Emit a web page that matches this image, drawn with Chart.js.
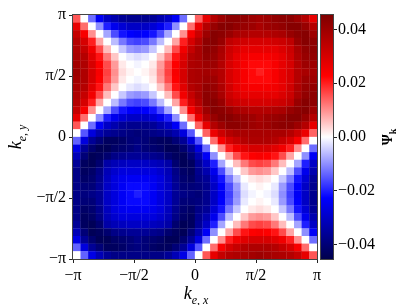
<!DOCTYPE html>
<html>
<head>
<meta charset="utf-8">
<script src="https://cdn.jsdelivr.net/npm/chart.js@4"></script>
<style>
html, body { margin: 0; padding: 0; background: #fff; }
#wrap { position: relative; width: 415px; height: 305px; overflow: hidden; }
canvas { position: absolute; top: 0; }
.lab { position: absolute; font-family: "Liberation Serif", serif; font-size: 18px; color: #000; white-space: nowrap; line-height: 1; transform: translate(-50%, -50%); }
.lab sub { font-size: 12px; line-height: 0; }
</style>
</head>
<body>
<div id="wrap">
	<canvas id="map" width="415" height="305" style="left:0"></canvas>
	<canvas id="bar" width="115" height="305" style="left:300px"></canvas>
	<div class="lab" style="left:196px;top:293px"><i>k</i><sub><i>e, x</i></sub></div>
	<div class="lab" style="left:15px;top:137px;transform:translate(-50%,-50%) rotate(-90deg)"><i>k</i><sub><i>e, y</i></sub></div>
	<div class="lab" style="left:388px;top:137px;font-size:14px;transform:translate(-50%,-50%) rotate(-90deg)"><b>Ψ</b><sub style="font-size:10px"><b>k</b></sub></div>
</div>
<script>
// lower edge of each cell, in units of pi
var kx = [-1, -0.9375, -0.875, -0.8125, -0.75, -0.6875, -0.625, -0.5625, -0.5, -0.4375, -0.375, -0.3125, -0.25, -0.1875, -0.125, -0.0625,
	0, 0.0625, 0.125, 0.1875, 0.25, 0.3125, 0.375, 0.4375, 0.5, 0.5625, 0.625, 0.6875, 0.75, 0.8125, 0.875, 0.9375];
var ky = [0.9375, 0.875, 0.8125, 0.75, 0.6875, 0.625, 0.5625, 0.5, 0.4375, 0.375, 0.3125, 0.25, 0.1875, 0.125, 0.0625, 0,
	-0.0625, -0.125, -0.1875, -0.25, -0.3125, -0.375, -0.4375, -0.5, -0.5625, -0.625, -0.6875, -0.75, -0.8125, -0.875, -0.9375, -1];

// values, in units of 1e-3, top row first
var psi = [
	[15, 0, -13, -24, -30, -33, -36, -37, -37, -37, -36, -33, -30, -24, -13, 0, 14, 27, 36, 40, 43, 43, 42, 40, 39, 40, 42, 43, 43, 40, 36, 27],
	[27, 13, 0, -10, -20, -25, -28, -30, -30, -30, -28, -25, -20, -10, 0, 13, 26, 36, 41, 44, 44, 42, 41, 40, 38, 40, 41, 42, 44, 44, 41, 36],
	[33, 24, 10, 0, -8, -16, -21, -23, -24, -23, -21, -16, -8, 0, 10, 24, 32, 40, 44, 43, 41, 38, 37, 36, 36, 36, 37, 38, 41, 43, 44, 40],
	[36, 30, 20, 8, 0, -6, -12, -16, -17, -16, -12, -6, 0, 8, 20, 30, 36, 43, 44, 41, 34, 32, 31, 30, 30, 30, 31, 32, 34, 41, 44, 43],
	[37, 33, 25, 16, 6, 0, -5, -9, -10, -9, -5, 0, 6, 16, 25, 33, 38, 43, 42, 38, 32, 29, 27, 27, 27, 27, 27, 29, 32, 38, 42, 43],
	[38, 36, 28, 21, 12, 5, 0, -2, -3, -2, 0, 5, 12, 21, 28, 36, 38, 42, 41, 37, 31, 27, 25, 24, 24, 24, 25, 27, 31, 37, 41, 42],
	[39, 37, 30, 23, 16, 9, 2, 0, -1, 0, 2, 9, 16, 23, 30, 37, 38, 40, 40, 36, 30, 27, 24, 22, 22, 22, 24, 27, 30, 36, 40, 40],
	[40, 37, 30, 24, 17, 10, 3, 1, 0, 1, 3, 10, 17, 24, 30, 37, 38, 39, 38, 36, 30, 27, 24, 22, 20, 22, 24, 27, 30, 36, 38, 39],
	[39, 37, 30, 23, 16, 9, 2, 0, -1, 0, 2, 9, 16, 23, 30, 37, 38, 40, 40, 36, 30, 27, 24, 22, 22, 22, 24, 27, 30, 36, 40, 40],
	[38, 36, 28, 21, 12, 5, 0, -2, -3, -2, 0, 5, 12, 21, 28, 36, 38, 42, 41, 37, 31, 27, 25, 24, 24, 24, 25, 27, 31, 37, 41, 42],
	[37, 33, 25, 16, 6, 0, -5, -9, -10, -9, -5, 0, 6, 16, 25, 33, 38, 43, 42, 38, 32, 29, 27, 27, 27, 27, 27, 29, 32, 38, 42, 43],
	[36, 30, 20, 8, 0, -6, -12, -16, -17, -16, -12, -6, 0, 8, 20, 30, 36, 43, 44, 41, 34, 32, 31, 30, 30, 30, 31, 32, 34, 41, 44, 43],
	[33, 24, 10, 0, -8, -16, -21, -23, -24, -23, -21, -16, -8, 0, 10, 24, 32, 40, 44, 43, 41, 38, 37, 36, 36, 36, 37, 38, 41, 43, 44, 40],
	[27, 13, 0, -10, -20, -25, -28, -30, -30, -30, -28, -25, -20, -10, 0, 13, 26, 36, 41, 44, 44, 42, 41, 40, 38, 40, 41, 42, 44, 44, 41, 36],
	[15, 0, -13, -24, -30, -33, -36, -37, -37, -37, -36, -33, -30, -24, -13, 0, 14, 27, 36, 40, 43, 43, 42, 40, 39, 40, 42, 43, 43, 40, 36, 27],
	[0, -15, -27, -33, -36, -37, -38, -39, -40, -39, -38, -37, -36, -33, -27, -15, 0, 14, 26, 32, 36, 38, 38, 38, 38, 38, 38, 38, 36, 32, 26, 14],
	[-14, -27, -36, -40, -43, -43, -42, -40, -39, -40, -42, -43, -43, -40, -36, -27, -15, 0, 13, 24, 30, 33, 36, 37, 37, 37, 36, 33, 30, 24, 13, 0],
	[-26, -36, -41, -44, -44, -42, -41, -40, -38, -40, -41, -42, -44, -44, -41, -36, -27, -13, 0, 10, 20, 25, 28, 30, 30, 30, 28, 25, 20, 10, 0, -13],
	[-32, -40, -44, -43, -41, -38, -37, -36, -36, -36, -37, -38, -41, -43, -44, -40, -33, -24, -10, 0, 8, 16, 21, 23, 24, 23, 21, 16, 8, 0, -10, -24],
	[-36, -43, -44, -41, -34, -32, -31, -30, -30, -30, -31, -32, -34, -41, -44, -43, -36, -30, -20, -8, 0, 6, 12, 16, 17, 16, 12, 6, 0, -8, -20, -30],
	[-38, -43, -42, -38, -32, -29, -27, -27, -27, -27, -27, -29, -32, -38, -42, -43, -37, -33, -25, -16, -6, 0, 5, 9, 10, 9, 5, 0, -6, -16, -25, -33],
	[-38, -42, -41, -37, -31, -27, -25, -24, -24, -24, -25, -27, -31, -37, -41, -42, -38, -36, -28, -21, -12, -5, 0, 2, 3, 2, 0, -5, -12, -21, -28, -36],
	[-38, -40, -40, -36, -30, -27, -24, -22, -22, -22, -24, -27, -30, -36, -40, -40, -39, -37, -30, -23, -16, -9, -2, 0, 1, 0, -2, -9, -16, -23, -30, -37],
	[-38, -39, -38, -36, -30, -27, -24, -22, -20, -22, -24, -27, -30, -36, -38, -39, -40, -37, -30, -24, -17, -10, -3, -1, 0, -1, -3, -10, -17, -24, -30, -37],
	[-38, -40, -40, -36, -30, -27, -24, -22, -22, -22, -24, -27, -30, -36, -40, -40, -39, -37, -30, -23, -16, -9, -2, 0, 1, 0, -2, -9, -16, -23, -30, -37],
	[-38, -42, -41, -37, -31, -27, -25, -24, -24, -24, -25, -27, -31, -37, -41, -42, -38, -36, -28, -21, -12, -5, 0, 2, 3, 2, 0, -5, -12, -21, -28, -36],
	[-38, -43, -42, -38, -32, -29, -27, -27, -27, -27, -27, -29, -32, -38, -42, -43, -37, -33, -25, -16, -6, 0, 5, 9, 10, 9, 5, 0, -6, -16, -25, -33],
	[-36, -43, -44, -41, -34, -32, -31, -30, -30, -30, -31, -32, -34, -41, -44, -43, -36, -30, -20, -8, 0, 6, 12, 16, 17, 16, 12, 6, 0, -8, -20, -30],
	[-32, -40, -44, -43, -41, -38, -37, -36, -36, -36, -37, -38, -41, -43, -44, -40, -33, -24, -10, 0, 8, 16, 21, 23, 24, 23, 21, 16, 8, 0, -10, -24],
	[-26, -36, -41, -44, -44, -42, -41, -40, -38, -40, -41, -42, -44, -44, -41, -36, -27, -13, 0, 10, 20, 25, 28, 30, 30, 30, 28, 25, 20, 10, 0, -13],
	[-14, -27, -36, -40, -43, -43, -42, -40, -39, -40, -42, -43, -43, -40, -36, -27, -15, 0, 13, 24, 30, 33, 36, 37, 37, 37, 36, 33, 30, 24, 13, 0],
	[0, -14, -26, -32, -36, -38, -38, -38, -38, -38, -38, -38, -36, -32, -26, -14, 0, 15, 27, 33, 36, 37, 38, 39, 40, 39, 38, 37, 36, 33, 27, 15]
];

var piTicks = [-1, -0.5, 0, 0.5, 1];
var piLabels = ['−π', '−π/2', '0', 'π/2', 'π'];
var barTicks = [-0.04, -0.02, 0, 0.02, 0.04];
var vMax = 0.0454;

// seismic colormap: position, r, g, b
var seismic = [
	[0, 0, 0, 76],
	[0.25, 0, 0, 255],
	[0.5, 255, 255, 255],
	[0.75, 255, 0, 0],
	[1, 127, 0, 0]
];

function colorOf(v) {
	var t = Math.max(0, Math.min(1, (v / vMax + 1) / 2));
	for (var n = 1; n < seismic.length; n++) {
		if (t <= seismic[n][0]) {
			var a = seismic[n - 1], b = seismic[n];
			var f = (t - a[0]) / (b[0] - a[0]);
			return 'rgb(' + [1, 2, 3].map(function (c) {
				return Math.round(a[c] + (b[c] - a[c]) * f);
			}).join(',') + ')';
		}
	}
	return 'rgb(127,0,0)';
}

var serif = '"Liberation Serif", serif';
var tickColor = '#222';

// box round the plot area, like the matplotlib spines
var frame = {
	id: 'frame',
	afterDraw: function (chart) {
		var ctx = chart.ctx, a = chart.chartArea;
		ctx.save();
		ctx.strokeStyle = '#444';
		ctx.lineWidth = 1;
		ctx.strokeRect(a.left - 0.5, a.top - 0.5, a.width + 1, a.height + 1);
		ctx.restore();
	}
};

var cells = [];
psi.forEach(function (row, r) {
	row.forEach(function (v, c) {
		cells.push({ x: kx[c] + 1 / 32, y: ky[r] + 1 / 32, v: v / 1000 });
	});
});

function piScale(pos) {
	return {
		type: 'linear',
		position: pos,
		min: -1,
		max: 1,
		grid: { drawOnChartArea: false, tickLength: 4, tickColor: tickColor },
		border: { display: false },
		afterBuildTicks: function (scale) {
			scale.ticks = piTicks.map(function (v) { return { value: v }; });
		},
		ticks: {
			color: '#000',
			font: { family: serif, size: 16 },
			padding: 3,
			maxRotation: 0,
			autoSkip: false,
			callback: function (v) { return piLabels[piTicks.indexOf(v)]; }
		}
	};
}

var xAxis = piScale('bottom');
xAxis.afterFit = function (scale) { scale.height = 46; };
var yAxis = piScale('left');
yAxis.afterFit = function (scale) { scale.width = 73; };

new Chart(document.getElementById('map').getContext('2d'), {
	type: 'scatter',
	data: {
		datasets: [{
			data: cells,
			clip: 0,
			pointStyle: 'rect',
			pointBorderWidth: 0,
			pointRadius: function (c) {
				// rect side is radius * sqrt(2); a bit of overlap hides the seams
				var w = c.chart.chartArea ? c.chart.chartArea.width : 244;
				return (w / kx.length + 0.3) * Math.SQRT1_2;
			},
			pointBackgroundColor: function (c) {
				return c.raw ? colorOf(c.raw.v) : '#fff';
			}
		}]
	},
	options: {
		responsive: false,
		animation: false,
		events: [],
		layout: { autoPadding: false, padding: { top: 15, right: 98, left: 0, bottom: 0 } },
		plugins: { legend: { display: false }, tooltip: { enabled: false } },
		scales: { x: xAxis, y: yAxis }
	},
	plugins: [frame]
});

new Chart(document.getElementById('bar').getContext('2d'), {
	type: 'bar',
	data: {
		labels: ['Ψ'],
		datasets: [{
			data: [[-vMax, vMax]],
			barPercentage: 1,
			categoryPercentage: 1,
			borderWidth: 0,
			backgroundColor: function (c) {
				var a = c.chart.chartArea;
				if (!a) return '#fff';
				var y = c.chart.scales.y;
				var g = c.chart.ctx.createLinearGradient(0, y.getPixelForValue(-vMax), 0, y.getPixelForValue(vMax));
				seismic.forEach(function (s) {
					g.addColorStop(s[0], 'rgb(' + s[1] + ',' + s[2] + ',' + s[3] + ')');
				});
				return g;
			}
		}]
	},
	options: {
		responsive: false,
		animation: false,
		events: [],
		layout: { autoPadding: false, padding: { top: 15, left: 21, right: 0, bottom: 46 } },
		plugins: { legend: { display: false }, tooltip: { enabled: false } },
		scales: {
			x: { display: false },
			y: {
				type: 'linear',
				position: 'right',
				min: -vMax,
				max: vMax,
				grid: { drawOnChartArea: false, tickLength: 4, tickColor: tickColor },
				border: { display: false },
				afterFit: function (scale) { scale.width = 82; },
				afterBuildTicks: function (scale) {
					scale.ticks = barTicks.map(function (v) { return { value: v }; });
				},
				ticks: {
					color: '#000',
					font: { family: serif, size: 16 },
					padding: 1,
					autoSkip: false,
					callback: function (v) { return v.toFixed(2).replace('-', '−'); }
				}
			}
		}
	},
	plugins: [frame]
});
</script>
</body>
</html>
